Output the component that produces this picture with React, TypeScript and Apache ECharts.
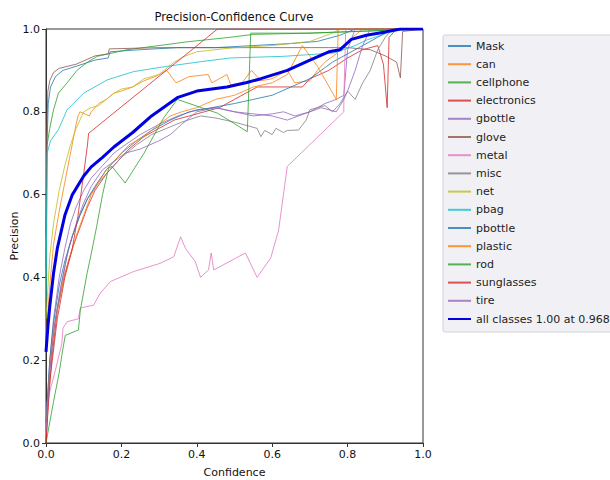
import React, { useEffect, useRef } from "react";
import * as echarts from "echarts";

const classNames = ["Mask", "can", "cellphone", "electronics", "gbottle", "glove", "metal", "misc", "net", "pbag", "pbottle", "plastic", "rod", "sunglasses", "tire"];
const classColors = ["#1f77b4", "#ff7f0e", "#2ca02c", "#d62728", "#9467bd", "#8c564b", "#e377c2", "#7f7f7f", "#bcbd22", "#17becf", "#1f77b4", "#ff7f0e", "#2ca02c", "#d62728", "#9467bd"];

const maskCurve = [[0, 0.42], [0.002, 0.7], [0.006, 0.82], [0.012, 0.86], [0.025, 0.885], [0.045, 0.9], [0.08, 0.91], [0.13, 0.925], [0.165, 0.93], [0.17, 0.945], [0.25, 0.95], [0.35, 0.955], [0.45, 0.955], [0.55, 0.96], [0.65, 0.965], [0.72, 0.97], [0.78, 0.985], [0.82, 1.0], [1, 1]];
const canCurve = [[0, 0.25], [0.01, 0.38], [0.02, 0.48], [0.035, 0.56], [0.05, 0.63], [0.065, 0.7], [0.08, 0.77], [0.085, 0.79], [0.09, 0.8], [0.115, 0.79], [0.12, 0.8], [0.14, 0.82], [0.16, 0.83], [0.18, 0.845], [0.2, 0.85], [0.23, 0.86], [0.26, 0.875], [0.29, 0.885], [0.32, 0.9], [0.345, 0.87], [0.38, 0.885], [0.43, 0.89], [0.44, 0.87], [0.48, 0.89], [0.49, 0.865], [0.52, 0.87], [0.545, 0.9], [0.57, 0.875], [0.6, 0.88], [0.64, 0.9], [0.66, 0.87], [0.7, 0.875], [0.72, 0.9], [0.74, 0.92], [0.77, 0.94], [0.8, 0.97], [0.84, 1.0], [1, 1]];
const cellphoneCurve = [[0, 0.3], [0.003, 0.72], [0.01, 0.76], [0.02, 0.805], [0.033, 0.845], [0.056, 0.87], [0.082, 0.9], [0.11, 0.92], [0.136, 0.934], [0.215, 0.95], [0.3, 0.96], [0.374, 0.969], [0.489, 0.98], [0.55, 0.987], [0.7, 0.99], [0.85, 0.995], [1, 1]];
const electronicsCurve = [[0, 0.0], [0.005, 0.08], [0.015, 0.2], [0.03, 0.32], [0.05, 0.41], [0.07, 0.47], [0.09, 0.52], [0.11, 0.57], [0.13, 0.61], [0.16, 0.65], [0.19, 0.68], [0.22, 0.71], [0.26, 0.74], [0.3, 0.76], [0.34, 0.78], [0.38, 0.79], [0.42, 0.8], [0.46, 0.81], [0.5, 0.83], [0.56, 0.86], [0.68, 0.86], [0.7, 0.88], [0.75, 0.9], [0.8, 0.93], [0.84, 0.95], [0.88, 0.96], [0.895, 0.915], [0.905, 0.81], [0.91, 0.98], [0.93, 1.0], [1, 1]];
const gbottleCurve = [[0, 0.05], [0.01, 0.2], [0.02, 0.3], [0.035, 0.4], [0.05, 0.47], [0.065, 0.53], [0.08, 0.57], [0.1, 0.61], [0.12, 0.64], [0.15, 0.67], [0.18, 0.7], [0.21, 0.72], [0.25, 0.745], [0.3, 0.77], [0.35, 0.79], [0.4, 0.805], [0.45, 0.81], [0.5, 0.8], [0.55, 0.795], [0.6, 0.79], [0.64, 0.78], [0.7, 0.8], [0.74, 0.82], [0.77, 0.83], [0.79, 0.84], [0.8, 0.95], [0.82, 1.0], [1, 1]];
const gloveCurve = [[0, 0.5], [0.002, 0.75], [0.005, 0.85], [0.01, 0.875], [0.02, 0.895], [0.035, 0.905], [0.08, 0.915], [0.13, 0.935], [0.165, 0.94], [0.168, 0.952], [0.3, 0.955], [0.45, 0.955], [0.6, 0.955], [0.75, 0.955], [0.8, 0.955], [0.86, 0.95], [0.9, 0.935], [0.93, 0.92], [0.94, 0.882], [0.946, 0.994], [1, 1]];
const metalCurve = [[0, 0.02], [0.003, 0.1], [0.025, 0.176], [0.042, 0.24], [0.045, 0.277], [0.056, 0.293], [0.086, 0.3], [0.091, 0.326], [0.126, 0.333], [0.144, 0.362], [0.171, 0.39], [0.232, 0.414], [0.303, 0.434], [0.339, 0.45], [0.357, 0.498], [0.37, 0.47], [0.396, 0.438], [0.41, 0.4], [0.431, 0.418], [0.438, 0.459], [0.445, 0.418], [0.529, 0.459], [0.56, 0.4], [0.596, 0.447], [0.617, 0.514], [0.64, 0.668], [0.79, 0.8], [0.79, 0.83], [0.795, 1.0], [1, 1]];
const miscCurve = [[0, 0.03], [0.01, 0.18], [0.025, 0.3], [0.04, 0.38], [0.055, 0.45], [0.07, 0.5], [0.09, 0.55], [0.11, 0.59], [0.14, 0.63], [0.17, 0.66], [0.2, 0.69], [0.24, 0.72], [0.28, 0.745], [0.32, 0.76], [0.36, 0.775], [0.41, 0.79], [0.45, 0.785], [0.5, 0.775], [0.54, 0.765], [0.56, 0.76], [0.57, 0.74], [0.58, 0.755], [0.6, 0.745], [0.61, 0.76], [0.63, 0.75], [0.64, 0.755], [0.67, 0.756], [0.69, 0.78], [0.7, 0.805], [0.74, 0.815], [0.76, 0.8], [0.78, 0.82], [0.8, 0.85], [0.82, 0.83], [0.84, 0.87], [0.86, 0.9], [0.88, 0.95], [0.9, 0.98], [0.92, 1.0], [1, 1]];
const netCurve = [[0, 0.3], [0.01, 0.45], [0.02, 0.53], [0.035, 0.61], [0.05, 0.67], [0.065, 0.72], [0.08, 0.76], [0.1, 0.8], [0.12, 0.81], [0.14, 0.815], [0.16, 0.83], [0.18, 0.845], [0.2, 0.855], [0.23, 0.86], [0.26, 0.88], [0.3, 0.89], [0.34, 0.92], [0.37, 0.935], [0.4, 0.945], [0.45, 0.95], [0.5, 0.955], [0.6, 0.96], [0.7, 0.97], [0.76, 0.99], [0.78, 1.0], [1, 1]];
const pbagCurve = [[0, 0.35], [0.003, 0.7], [0.012, 0.73], [0.033, 0.757], [0.056, 0.805], [0.1, 0.845], [0.162, 0.877], [0.232, 0.897], [0.322, 0.91], [0.41, 0.921], [0.489, 0.93], [0.63, 0.934], [0.764, 0.942], [0.82, 0.96], [0.852, 0.974], [0.905, 0.99], [0.95, 1.0], [1, 1]];
const pbottleCurve = [[0, 0.05], [0.01, 0.2], [0.02, 0.29], [0.035, 0.38], [0.05, 0.44], [0.07, 0.5], [0.09, 0.55], [0.11, 0.59], [0.13, 0.62], [0.16, 0.66], [0.2, 0.7], [0.24, 0.73], [0.28, 0.755], [0.33, 0.78], [0.38, 0.8], [0.44, 0.81], [0.5, 0.82], [0.55, 0.83], [0.6, 0.84], [0.65, 0.86], [0.7, 0.88], [0.73, 0.9], [0.76, 0.92], [0.8, 0.94], [0.84, 0.96], [0.88, 0.98], [0.92, 1.0], [1, 1]];
const plasticCurve = [[0, 0.03], [0.01, 0.18], [0.02, 0.27], [0.04, 0.37], [0.06, 0.44], [0.08, 0.5], [0.1, 0.55], [0.12, 0.6], [0.14, 0.63], [0.16, 0.66], [0.19, 0.69], [0.22, 0.72], [0.26, 0.74], [0.3, 0.77], [0.33, 0.79], [0.36, 0.8], [0.4, 0.81], [0.45, 0.83], [0.5, 0.84], [0.55, 0.86], [0.6, 0.87], [0.64, 0.89], [0.68, 0.96], [0.72, 0.91], [0.77, 0.83], [0.775, 1.0], [1, 1]];
const rodCurve = [[0, 0.0], [0.02, 0.1], [0.035, 0.17], [0.042, 0.212], [0.051, 0.26], [0.086, 0.273], [0.091, 0.32], [0.096, 0.345], [0.109, 0.41], [0.122, 0.466], [0.135, 0.526], [0.15, 0.6], [0.166, 0.664], [0.175, 0.668], [0.21, 0.628], [0.26, 0.7], [0.312, 0.785], [0.348, 0.83], [0.454, 0.797], [0.534, 0.752], [0.543, 0.99], [0.7, 0.99], [1, 1]];
const sunglassesCurve = [[0, 0.0], [0.01, 0.15], [0.03, 0.3], [0.05, 0.4], [0.069, 0.466], [0.085, 0.55], [0.1, 0.65], [0.11, 0.72], [0.113, 0.748], [0.455, 1.0], [1, 1]];
const tireCurve = [[0, 0.03], [0.01, 0.17], [0.02, 0.27], [0.04, 0.38], [0.06, 0.47], [0.08, 0.53], [0.1, 0.58], [0.12, 0.62], [0.15, 0.66], [0.18, 0.68], [0.21, 0.7], [0.25, 0.71], [0.3, 0.73], [0.33, 0.745], [0.36, 0.77], [0.4, 0.8], [0.45, 0.81], [0.5, 0.8], [0.55, 0.79], [0.6, 0.795], [0.63, 0.8], [0.66, 0.79], [0.7, 0.8], [0.73, 0.81], [0.77, 0.8], [0.79, 0.83], [0.8, 0.85], [0.82, 0.9], [0.84, 0.96], [0.86, 1.0], [1, 1]];

const allClassesLabel = "all classes 1.00 at 0.968";
const allClassesCurve = [[0, 0.22], [0.005, 0.28], [0.01, 0.33], [0.02, 0.41], [0.03, 0.47], [0.05, 0.55], [0.07, 0.6], [0.1, 0.645], [0.12, 0.667], [0.15, 0.69], [0.18, 0.715], [0.23, 0.75], [0.28, 0.79], [0.35, 0.835], [0.4, 0.85], [0.48, 0.86], [0.53, 0.87], [0.57, 0.88], [0.64, 0.9], [0.7, 0.925], [0.75, 0.945], [0.78, 0.95], [0.81, 0.975], [0.85, 0.985], [0.9, 0.993], [0.94, 1.0], [1, 1]];

const classCurves = [maskCurve, canCurve, cellphoneCurve, electronicsCurve, gbottleCurve, gloveCurve, metalCurve, miscCurve, netCurve, pbagCurve, pbottleCurve, plasticCurve, rodCurve, sunglassesCurve, tireCurve];

const FONT = "DejaVu Sans";

export default function App() {
  const ref = useRef<HTMLDivElement>(null);
  useEffect(() => {
    if (!ref.current) return;
    const chart = echarts.init(ref.current, undefined, { renderer: "svg" });
    const series: any[] = classNames.map((name, i) => ({
      name,
      type: "line",
      data: classCurves[i],
      symbol: "none",
      showSymbol: false,
      color: classColors[i],
      lineStyle: { width: 1, color: classColors[i], opacity: 0.8 },
      z: 2,
    }));
    series.push({
      name: allClassesLabel,
      type: "line",
      data: allClassesCurve,
      symbol: "none",
      showSymbol: false,
      color: "#0000e0",
      lineStyle: { width: 3, color: "#0000e0" },
      z: 3,
    });
    chart.setOption({
      animation: false,
      backgroundColor: "#ffffff",
      title: {
        text: "Precision-Confidence Curve",
        left: 234,
        top: 11,
        textAlign: "center",
        padding: 0,
        textStyle: { fontFamily: FONT, fontSize: 11.6, fontWeight: "normal", color: "#111" },
      },
      grid: {
        show: true,
        left: 46,
        right: 187,
        top: 29,
        bottom: 37,
        outerBoundsMode: "none",
        containLabel: false,
        borderColor: "#333",
        borderWidth: 1,
        backgroundColor: "transparent",
      },
      xAxis: {
        type: "value",
        min: 0,
        max: 1,
        interval: 0.2,
        name: "Confidence",
        nameLocation: "middle",
        nameGap: 24,
        nameMoveOverlap: false,
        nameTextStyle: { fontFamily: FONT, fontSize: 11, color: "#111" },
        axisLine: { show: true, lineStyle: { color: "#333", width: 1 } },
        axisTick: { show: true, length: 4, lineStyle: { color: "#333" } },
        axisLabel: { fontFamily: FONT, fontSize: 11, color: "#111", margin: 6, formatter: (v: number) => v.toFixed(1) },
        splitLine: { show: false },
      },
      yAxis: {
        type: "value",
        min: 0,
        max: 1,
        interval: 0.2,
        name: "Precision",
        nameLocation: "middle",
        nameGap: 26,
        nameMoveOverlap: false,
        nameTextStyle: { fontFamily: FONT, fontSize: 11, color: "#111" },
        axisLine: { show: true, lineStyle: { color: "#333", width: 1 } },
        axisTick: { show: true, length: 4, lineStyle: { color: "#333" } },
        axisLabel: { fontFamily: FONT, fontSize: 11, color: "#111", margin: 6, formatter: (v: number) => v.toFixed(1) },
        splitLine: { show: false },
      },
      legend: {
        orient: "vertical",
        left: 443,
        top: 35,
        data: [...classNames, allClassesLabel],
        itemWidth: 23,
        itemHeight: 12,
        itemGap: 4.2,
        padding: [4, 30, 6, 4],
        itemStyle: { opacity: 0 },
        backgroundColor: "#f1f1f5",
        borderColor: "#d4d4d8",
        borderWidth: 1,
        borderRadius: 2,
        textStyle: { fontFamily: FONT, fontSize: 11, color: "#222", lineHeight: 14 },
      },
      series,
    });
    return () => chart.dispose();
  }, []);
  return <div ref={ref} style={{ position: "fixed", left: 0, top: 0, width: 610, height: 480 }} />;
}
